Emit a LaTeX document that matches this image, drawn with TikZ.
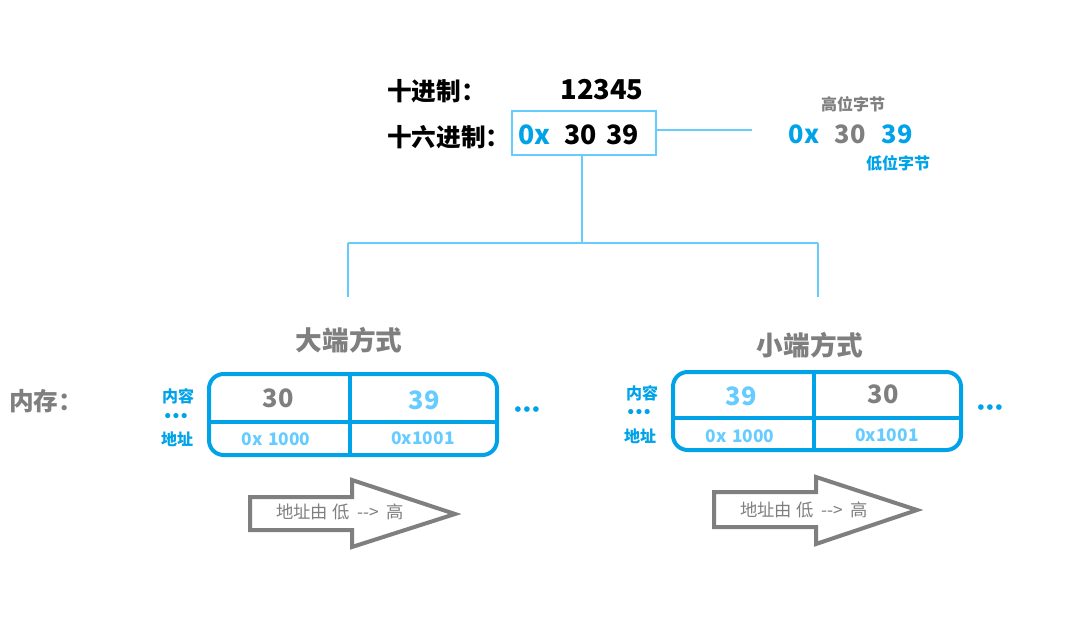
\documentclass[tikz,border=0pt]{standalone}
\usepackage{fontspec}
\setmainfont{Noto Sans CJK SC}
\newfontfamily\dotfont{DejaVu Sans}
\definecolor{deepblue}{HTML}{00A2E8}
\definecolor{lightblue}{HTML}{66CCFF}
\definecolor{greytext}{HTML}{7F7F7F}
\newcommand{\tridots}{{\dotfont •\kern-0.08em•\kern-0.08em•}}
\tikzset{
  bold/.style={font=\fontsize{#1}{#1}\selectfont\bfseries},
  plain/.style={font=\fontsize{#1}{#1}\selectfont},
  lbl/.style={inner sep=0pt, anchor=center},
  hexframe/.style={draw=lightblue, line width=2.2pt, minimum width=108pt, minimum height=33pt, inner sep=0pt},
  tree/.style={draw=lightblue, line width=2.2pt},
  memframe/.style={draw=deepblue, line width=3pt, rounded corners=11pt},
  memdiv/.style={draw=deepblue, line width=3pt},
  flowarrow/.style={draw=greytext, line width=3pt, fill=white, line join=miter},
}
\begin{document}
\begin{tikzpicture}[x=0.75pt,y=-0.75pt]
\useasboundingbox (0,0) rectangle (1076,635);

% --- number in decimal and hexadecimal ---
\node[lbl, anchor=west, bold=18.5] (declbl) at (387,91) {十进制：};
\node[lbl, bold=20.5] (decval) at (602,90) {12345};
\node[lbl, anchor=west, bold=18.5] (hexlbl) at (387,137) {十六进制：};
\node[hexframe] (hexbox) at (584,133) {};
\node[lbl, anchor=west, bold=20, text=deepblue] (hexpre) at (518,135) {0x};
\node[lbl, anchor=west, bold=20] (hexval) at (564,135) {30\kern0.12em\ 39};

% --- byte order note ---
\coordinate (noteend) at (752,130);
\draw[tree] (hexbox.east |- noteend) -- (noteend);
\node[lbl, bold=12, text=greytext] (hibyte) at (853,104) {高位字节};
\node[lbl, bold=19, text=deepblue] (notepre) at (804,134) {0x};
\node[lbl, bold=19, text=greytext] (notehi) at (850,134) {30};
\node[lbl, bold=19, text=deepblue] (notelo) at (897,134) {39};
\node[lbl, bold=12, text=deepblue] (lobyte) at (898,163) {低位字节};

% --- branching lines ---
\coordinate (fork) at (582,243);
\coordinate (bigtop) at (348,243);
\coordinate (smalltop) at (818,243);
\coordinate (bigend) at (348,297);
\coordinate (smallend) at (818,297);
\draw[tree] (hexbox.south -| fork) -- (fork);
\draw[tree] (bigtop) -- (smalltop);
\draw[tree] (bigtop) -- (bigend);
\draw[tree] (smalltop) -- (smallend);

% --- titles ---
\node[lbl, bold=20, text=greytext] (bigtitle) at (349,340) {大端方式};
\node[lbl, bold=20, text=greytext] (smalltitle) at (810,345) {小端方式};
\node[lbl, anchor=west, bold=18.5, text=greytext] (memlbl) at (9,401) {内存：};

% --- big-endian memory ---
\draw[memframe] (209,374) rectangle (497,455);
\draw[memdiv] (209,422) -- (497,422);
\draw[memdiv] (350,372) -- (350,457);
\node[lbl, bold=19, text=greytext] (bighi) at (278,398) {30};
\node[lbl, bold=19, text=lightblue] (biglo) at (424,400) {39};
\node[lbl, bold=13, text=lightblue] (bigaddra) at (276,439) {0x\kern0.1em\ 1000};
\node[lbl, bold=13, text=lightblue] (bigaddrb) at (423,438) {0x1001};
\node[lbl, bold=12, text=deepblue] (bigcontent) at (178,396) {内容};
\node[lbl, bold=11, text=deepblue] (bigdots) at (176,417) {\tridots};
\node[lbl, bold=12, text=deepblue] (bigaddr) at (177,439) {地址};
\node[lbl, bold=12, text=deepblue] (bigmore) at (527,411) {\tridots};

% --- little-endian memory ---
\draw[memframe] (673,372) rectangle (961,450);
\draw[memdiv] (673,418) -- (961,418);
\draw[memdiv] (814,370) -- (814,452);
\node[lbl, bold=19, text=lightblue] (smalllo) at (741,396) {39};
\node[lbl, bold=19, text=greytext] (smallhi) at (883,394) {30};
\node[lbl, bold=13, text=lightblue] (smalladdra) at (740,436) {0x\kern0.1em\ 1000};
\node[lbl, bold=13, text=lightblue] (smalladdrb) at (887,435) {0x1001};
\node[lbl, bold=12, text=deepblue] (smallcontent) at (642,393) {内容};
\node[lbl, bold=11, text=deepblue] (smalldots) at (639,413) {\tridots};
\node[lbl, bold=12, text=deepblue] (smalladdr) at (640,436) {地址};
\node[lbl, bold=12, text=deepblue] (smallmore) at (990,409) {\tridots};

% --- address direction arrows ---
\draw[flowarrow] (250,497) -- (352,497) -- (352,480) -- (455,514) -- (352,547) -- (352,530) -- (250,530) -- cycle;
\node[lbl, plain=13, text=greytext] (bigdir) at (340,512) {地址由 低 \ -{}-{}> \ 高};
\draw[flowarrow] (714,492) -- (816,492) -- (816,477) -- (917,510) -- (816,544) -- (816,527) -- (714,527) -- cycle;
\node[lbl, plain=13, text=greytext] (smalldir) at (804,510) {地址由 低 \ -{}-{}> \ 高};
\end{tikzpicture}
\end{document}
